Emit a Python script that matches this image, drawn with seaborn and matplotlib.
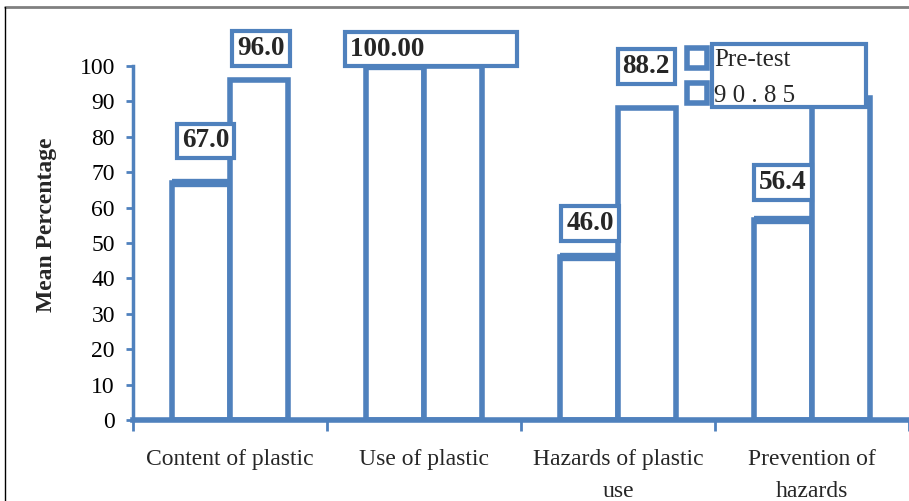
import pandas as pd
import seaborn as sns
import matplotlib.pyplot as plt
from matplotlib.lines import Line2D
from matplotlib.patches import Rectangle

# data
areas = ["Content of plastic", "Use of plastic", "Hazards of plastic\nuse", "Prevention of\nhazards"]
pre_test = [67.0, 100.0, 46.0, 56.4]
post_test = [96.0, 100.0, 88.2, 90.85]
pre_labels = ["67.0", "100.00", "46.0", "56.4"]
post_labels = ["96.0", "", "88.2", ""]
legend_labels = ["Pre-test", "9 0 . 8 5"]
y_ticks = list(range(0, 101, 10))

# label box offsets (pixels, dx / dy from bar top)
pre_offsets = [(5, 42), (6, 17), (1, 34), (0, 38)]
post_offsets = [(2, 32), (0, 0), (-1, 41), (0, 0)]

BLUE = "#4F81BD"
PX = 0.72  # pixel -> points at dpi 100

df = pd.DataFrame({
    "Area": areas * 2,
    "Mean": pre_test + post_test,
    "Test": ["Pre-test"] * len(areas) + ["Post-test"] * len(areas),
})

sns.set_style("white")
plt.rcParams["font.family"] = ["Liberation Serif", "DejaVu Serif"]

fig = plt.figure(figsize=(9.09, 5.01), dpi=100)
ax = fig.add_axes([133 / 909, 81 / 501, (909 - 133) / 909, 390 / 501])

sns.barplot(data=df, x="Area", y="Mean", hue="Test", hue_order=["Pre-test", "Post-test"],
            palette=["white", "white"], edgecolor=BLUE, linewidth=4, width=0.6,
            saturation=1, errorbar=None, legend=False, ax=ax)

ax.set_xlim(-0.5, len(areas) - 0.5)
ax.set_ylim(0, 110.2)

# thicker top on the pre-test bars
for p in ax.containers[0]:
    ax.plot([p.get_x(), p.get_x() + p.get_width()], [p.get_height()] * 2,
            color=BLUE, lw=6, solid_capstyle="butt", zorder=3)

box = dict(boxstyle="square,pad=0.18", fc="white", ec=BLUE, lw=3)

def put_label(p, txt, off):
    if not txt:
        return
    ax.annotate(txt, xy=(p.get_x() + p.get_width() / 2, p.get_height()),
                xytext=(off[0] * PX, off[1] * PX), textcoords="offset points",
                ha="center", va="center", fontsize=19.5, fontweight="bold",
                annotation_clip=False, zorder=6, bbox=box)

for p, txt, off in zip(ax.containers[0], pre_labels, pre_offsets):
    if txt == "100.00":
        # wide box spanning both bars
        ax.annotate(txt + "             ", xy=(p.get_x() + p.get_width(), p.get_height()),
                    xytext=(-74 * PX, 17 * PX), textcoords="offset points",
                    ha="left", va="center", fontsize=19.5, fontweight="bold",
                    annotation_clip=False, zorder=6, bbox=box)
    else:
        put_label(p, txt, off)
for p, txt, off in zip(ax.containers[1], post_labels, post_offsets):
    put_label(p, txt, off)

# axes styling
for s in ["top", "right"]:
    ax.spines[s].set_visible(False)
ax.spines["left"].set_color(BLUE)
ax.spines["left"].set_linewidth(2.5)
ax.spines["left"].set_bounds(0, 100)
ax.spines["bottom"].set_color(BLUE)
ax.spines["bottom"].set_linewidth(4)
ax.spines["bottom"].set_zorder(5)

ax.set_yticks(y_ticks)
ax.tick_params(axis="y", colors=BLUE, labelcolor="black", labelsize=17,
               direction="out", length=5, width=2, left=True, pad=8)

ax.set_xticks([i + 0.5 for i in range(-1, len(areas))])
ax.set_xticklabels([])
ax.set_xticks(range(len(areas)), minor=True)
ax.set_xticklabels(areas, minor=True, fontsize=17, linespacing=1.65, va="top")
ax.tick_params(axis="x", which="major", colors=BLUE, direction="out", length=8, width=2, bottom=True)
ax.tick_params(axis="x", which="minor", length=0, pad=21, bottom=True)

ax.set_xlabel("")
ax.set_ylabel("Mean Percentage", fontsize=17, fontweight="bold", labelpad=16)

# legend with a box around the text only
handles = [Line2D([], [], marker="s", ls="", markersize=15, mfc="white", mec=BLUE, mew=4)
           for _ in legend_labels]
fig.patches.append(Rectangle((712 / 909, 1 - 107 / 501), 154 / 909, 63 / 501,
                             transform=fig.transFigure, fc="white", ec=BLUE, lw=3, zorder=4))
fig.legend(handles, legend_labels, loc="upper left", bbox_to_anchor=(684 / 909, 1 - 49 / 501),
           frameon=False, fontsize=18, handlelength=1.0, handletextpad=0.2,
           labelspacing=0.5, borderpad=0, borderaxespad=0).set_zorder(6)

# outer border of the picture
fig.add_artist(Line2D([5 / 909, 1], [1 - 7 / 501] * 2, color="#808080", lw=2))
fig.add_artist(Line2D([5 / 909] * 2, [0, 1 - 7 / 501], color="black", lw=1))

fig.savefig("out.png", dpi=100)
